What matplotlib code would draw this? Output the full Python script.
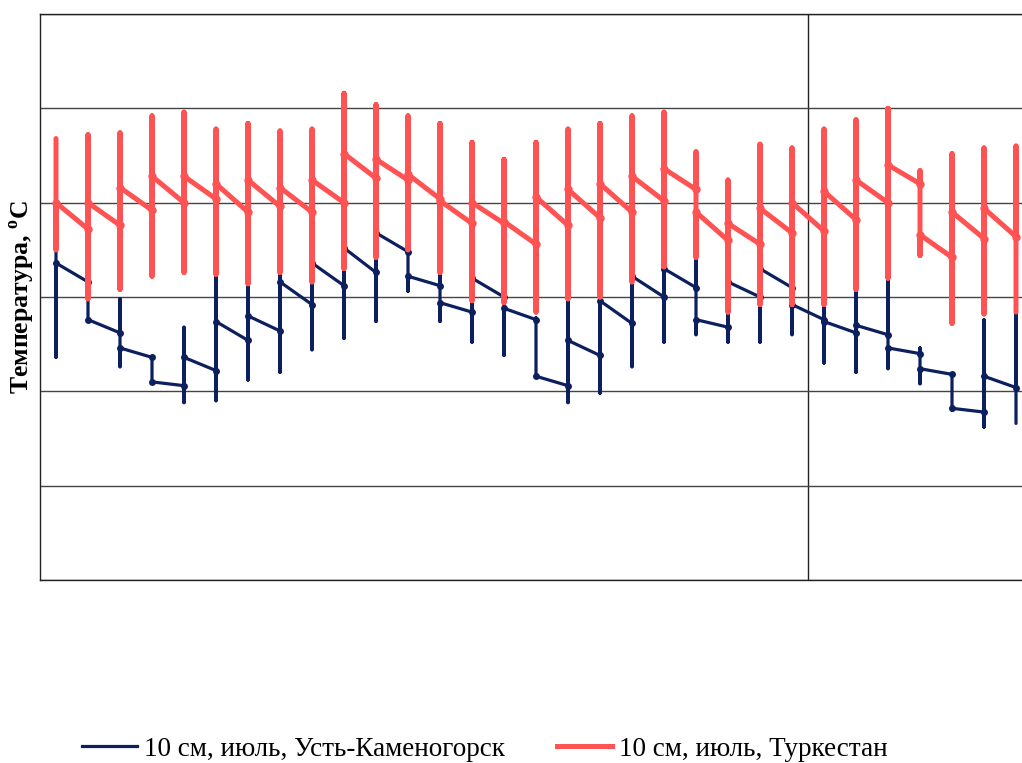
import matplotlib
matplotlib.use('Agg')
from matplotlib import pyplot as plt
from matplotlib.lines import Line2D

# дни июля
days = list(range(1, 32))

# Усть-Каменогорск, 10 см: макс, мин, значение в начале и в конце суток
uk_max = [27.4, 25.8, 24.9, 21.8, 23.4, 26.1, 25.7, 26.2, 26.8, 27.6, 28.4, 27.4, 26.3, 26.0, 25.0, 23.9,
          24.8, 24.9, 26.1, 26.6, 27.1, 25.8, 26.5, 25.5, 24.6, 25.3, 26.0, 22.3, 20.9, 23.8, 24.2]
uk_min = [21.8, 23.7, 21.3, 20.5, 19.4, 19.5, 20.6, 21.0, 22.2, 22.8, 23.7, 25.3, 23.7, 22.6, 21.9, 20.8,
          19.4, 19.9, 21.3, 22.6, 23.0, 22.6, 22.6, 23.0, 21.5, 21.0, 21.2, 20.4, 19.0, 18.1, 18.3]
uk_start = [26.8, 23.8, 22.3, 20.5, 21.8, 23.7, 24.0, 25.8, 26.8, 27.6, 28.4, 26.1, 24.7, 26.0, 24.4,
            20.8, 22.7, 24.8, 26.1, 26.5, 23.8, 25.8, 26.5, 24.6, 23.7, 23.5, 22.3, 21.2, 19.1, 20.8]
uk_end = [25.8, 23.1, 21.8, 20.3, 21.1, 22.7, 23.2, 24.6, 25.6, 26.3, 27.4, 25.6, 24.2, 25.0, 23.8,
          20.3, 21.9, 23.6, 25.0, 25.5, 23.4, 25.0, 25.5, 23.8, 23.1, 23.0, 22.0, 20.9, 18.9, 20.2]

# Туркестан, 10 см
tk_max = [33.4, 33.6, 33.7, 34.6, 34.8, 33.9, 34.2, 33.8, 33.9, 35.8, 35.2, 34.6, 34.2, 33.2, 32.3, 33.2,
          33.9, 34.2, 34.6, 34.8, 32.7, 31.2, 33.1, 32.9, 33.9, 34.4, 35.0, 31.7, 32.6, 32.9, 33.0]
tk_min = [27.5, 24.9, 25.4, 26.1, 26.3, 26.2, 25.7, 26.3, 25.8, 26.5, 27.1, 27.5, 26.3, 24.8, 24.7, 24.2,
          24.9, 25.0, 25.8, 26.6, 27.1, 24.2, 24.6, 24.6, 24.6, 25.4, 26.0, 27.2, 23.6, 24.1, 24.2]
tk_start = [30.0, 30.0, 30.8, 31.4, 31.4, 31.0, 31.2, 30.8, 31.2, 32.6, 32.3, 31.5, 30.1, 30.0, 29.0,
            30.3, 30.7, 31.0, 31.4, 31.8, 29.5, 28.9, 29.7, 30.0, 30.6, 31.2, 32.0, 28.3, 29.5, 29.7]
tk_end = [28.6, 28.8, 29.6, 30.0, 30.2, 29.5, 29.8, 29.5, 30.0, 31.3, 31.2, 30.2, 28.9, 28.9, 27.8,
          28.8, 29.2, 29.5, 30.1, 30.7, 28.0, 27.8, 28.4, 28.5, 29.1, 30.0, 31.0, 27.1, 28.1, 28.2]

labels = ['10 см, июль, Усть-Каменогорск', '10 см, июль, Туркестан']
blue = '#0c1f5f'
red = '#ff5252'


def build_path(hi, lo, start, end):
    xs, ys = [], []
    for i, d in enumerate(days):
        if i > 0:
            xs.append(d); ys.append(end[i - 1])
        xs += [d, d]; ys += [hi[i], lo[i]]
        if i < len(start):
            xs.append(d); ys.append(start[i])
    return xs, ys


fig = plt.figure(figsize=(10.22, 7.63), dpi=100)
ax = fig.add_axes([40 / 1022, 1 - 580 / 763, 992 / 1022, 566 / 763])

for hi, lo, st, en, c, lw, ms, z in [(uk_max, uk_min, uk_start, uk_end, blue, 2.3, 5, 3),
                                      (tk_max, tk_min, tk_start, tk_end, red, 3.6, 6, 4)]:
    xs, ys = build_path(hi, lo, st, en)
    ax.plot(xs, ys, color=c, lw=lw, solid_joinstyle='round', solid_capstyle='round', zorder=z)
    ax.plot(days[:len(st)], st, 'o', color=c, ms=ms, mew=0, zorder=z)
    ax.plot(days[1:len(en) + 1], en, 'o', color=c, ms=ms, mew=0, zorder=z)

ax.set_xlim(0.5, 31.5)
ax.set_ylim(10, 40)
ax.set_yticks(range(10, 41, 5))
ax.set_xticks([])
ax.tick_params(axis='y', length=0, labelleft=False)
ax.grid(axis='y', color='#444444', lw=1)
ax.axvline(24.5, color='#222222', lw=1, zorder=1)
for s in ax.spines.values():
    s.set_color('#222222')
    s.set_linewidth(1)

fig.text(22 / 1022, 1 - 297 / 763, 'Температура, $^{\\mathregular{o}}$С', rotation=90,
         ha='center', va='center', fontsize=18.5, fontweight='bold', family='Liberation Serif')

handles = [Line2D([], [], color=blue, lw=2.3), Line2D([], [], color=red, lw=3.6)]
fig.legend(handles, labels, loc='center left', bbox_to_anchor=(58 / 1022, 1 - 749 / 763), ncol=2,
           frameon=False, handlelength=2.0, handletextpad=0.26, columnspacing=1.95,
           prop={'family': 'Liberation Serif', 'size': 19.5})

fig.savefig('out.png', dpi=100)
